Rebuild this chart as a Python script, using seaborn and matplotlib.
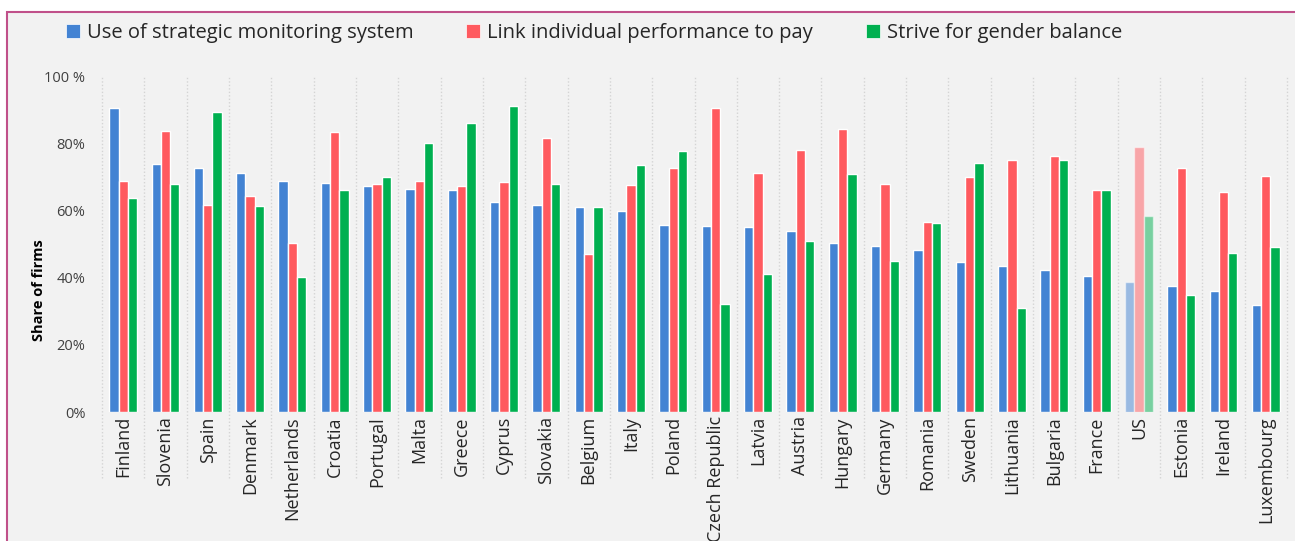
import numpy as np
import pandas as pd
import matplotlib
matplotlib.use("Agg")
import matplotlib.pyplot as plt
from matplotlib.patches import Patch, Rectangle
from matplotlib.transforms import blended_transform_factory
import seaborn as sns

# ============================
# DATA
# ============================

COUNTRIES = ["Finland", "Slovenia", "Spain", "Denmark", "Netherlands", "Croatia",
             "Portugal", "Malta", "Greece", "Cyprus", "Slovakia", "Belgium", "Italy",
             "Poland", "Czech Republic", "Latvia", "Austria", "Hungary", "Germany",
             "Romania", "Sweden", "Lithuania", "Bulgaria", "France", "US", "Estonia",
             "Ireland", "Luxembourg"]

MONITORING = [90.6, 73.8, 72.7, 71.1, 68.7, 68.3, 67.2, 66.5, 66.2, 62.5, 61.6, 60.9, 59.7,
              55.6, 55.4, 55.1, 54.0, 50.2, 49.4, 48.1, 44.6, 43.6, 42.4, 40.5, 38.7, 37.4,
              36.1, 31.9]
PERF_PAY = [68.8, 83.6, 61.6, 64.3, 50.4, 83.4, 67.8, 68.7, 67.3, 68.5, 81.6, 47.1, 67.6,
            72.5, 90.4, 71.1, 78.1, 84.1, 67.9, 56.6, 69.8, 75.0, 76.1, 66.0, 78.9, 72.7,
            65.5, 70.2]
GENDER = [63.6, 67.8, 89.3, 61.4, 40.1, 66.2, 69.8, 80.0, 86.1, 91.2, 67.8, 60.9, 73.4,
          77.7, 32.0, 41.0, 50.9, 70.9, 44.8, 56.2, 74.0, 31.0, 75.0, 66.0, 58.4, 34.9,
          47.4, 49.2]

SERIES = ["Use of strategic monitoring system", "Link individual performance to pay",
          "Strive for gender balance"]
COLORS = ["#4383d3", "#ff5a5f", "#00b050"]
HIGHLIGHT = "US"

YTICKS = [0, 20, 40, 60, 80, 100]
YTICK_LABELS = ["0%", "20%", "40%", "60%", "80%", "100 %"]

# ============================
# PLOT
# ============================

df = pd.DataFrame({"country": COUNTRIES, SERIES[0]: MONITORING,
                   SERIES[1]: PERF_PAY, SERIES[2]: GENDER})
long = df.melt(id_vars="country", var_name="series", value_name="share")

sns.set_style("white")
plt.rcParams["font.family"] = ["Open Sans", "DejaVu Sans"]

W, H = 1295, 541
fig = plt.figure(figsize=(W / 100, H / 100), dpi=100, facecolor="white")

# grey chart frame (runs off the right and bottom edges)
fig.patches.append(Rectangle((7 / W, -0.2), 1.2, 1.2 - 12 / H, transform=fig.transFigure,
                             facecolor="#f2f2f2", edgecolor="#c0508a", linewidth=1.5,
                             zorder=-5))

ax = fig.add_axes([102 / W, 1 - 412 / H, (1287 - 102) / W, (412 - 76) / H])
ax.set_facecolor("none")

sns.barplot(data=long, x="country", y="share", hue="series", hue_order=SERIES,
            palette=COLORS, saturation=1, width=0.66, edgecolor="white", linewidth=1,
            legend=False, ax=ax)

# lighter bars for the US comparison
us_idx = COUNTRIES.index(HIGHLIGHT)
for cont in ax.containers:
    cont.patches[us_idx].set_alpha(0.5)

ax.set_ylim(0, 100)
ax.set_xlim(-0.5, len(COUNTRIES) - 0.5)
ax.set_yticks(YTICKS)
ax.set_yticklabels(YTICK_LABELS)
ax.set_xlabel("")
ax.set_ylabel("Share of firms", fontsize=10.5, fontweight="bold", color="#000000")
ax.yaxis.set_label_coords(-0.047, 0.363)
ax.tick_params(axis="y", length=0, labelsize=10.5, labelcolor="#404040", pad=12)
ax.tick_params(axis="x", length=0, labelsize=13, labelcolor="#262626", rotation=90, pad=3)
for lab in ax.get_xticklabels():
    lab.set_va("top")
sns.despine(ax=ax, left=True, bottom=True)

# dotted separators between countries, running down into the label area
trans = blended_transform_factory(ax.transData, ax.transAxes)
seps = np.arange(len(COUNTRIES) + 1) - 0.5
ax.vlines(seps, -0.196, 1.0, transform=trans, colors="#d4d4d4", linestyles=(0, (1, 1.5)),
          linewidth=1, clip_on=False, zorder=0)

handles = [Patch(facecolor=c, edgecolor="white", linewidth=0.5) for c in COLORS]
fig.legend(handles, SERIES, loc="center left", bbox_to_anchor=(48 / W, 1 - 33 / H),
           ncol=3, frameon=False, fontsize=14.5, handlelength=0.7, handleheight=0.7,
           handletextpad=0.35, columnspacing=2.6, labelcolor="#262626")

fig.savefig("out.png", dpi=100, facecolor=fig.get_facecolor())
